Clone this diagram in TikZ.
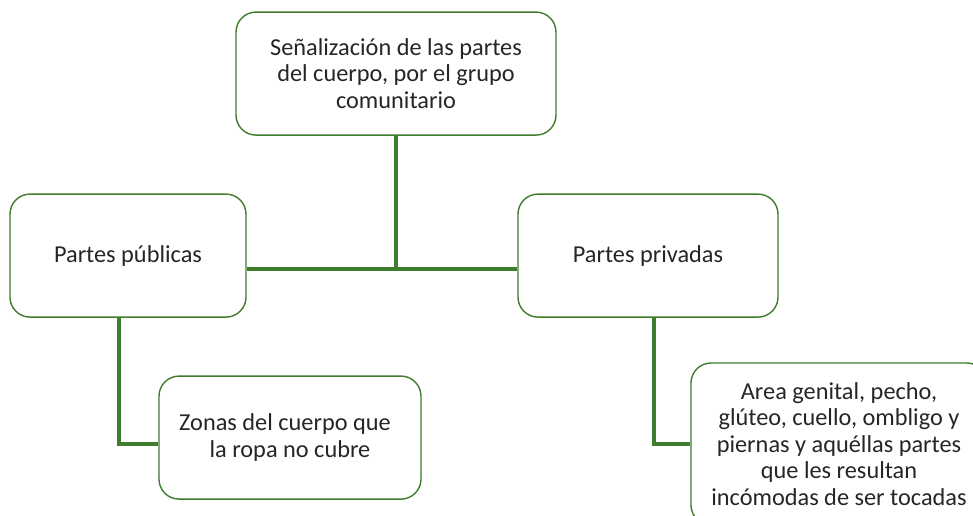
\documentclass[tikz,border=0pt]{standalone}
\usepackage{fontspec}
\setmainfont{Carlito}
\usepackage{tikz}
\usetikzlibrary{arrows,positioning}
\usetikzlibrary{calc}
\definecolor{hojaverde}{RGB}{62,124,46}
\definecolor{textogris}{RGB}{38,38,38}

\begin{document}
\begin{tikzpicture}[
  caja/.style={draw=hojaverde, line width=1pt, rounded corners=0.5cm, fill=white,
    align=center, text=textogris, inner sep=0pt,
    font=\fontsize{17.3}{18.9}\selectfont},
  rama/.style={draw=hojaverde, line width=2.8pt}]
\useasboundingbox (0,0) rectangle (24.325,-12.9);
\clip (0,0) rectangle (24.325,-12.9);
\node[caja, minimum width=8cm, minimum height=3.075cm] (raiz) at (9.9,-1.84)
  {Señalización de las partes\\ del cuerpo, por el grupo\\ comunitario};
\node[caja, minimum width=5.9cm, minimum height=3.075cm] (publicas) at (3.2,-6.39)
  {Partes públicas};
\node[caja, minimum width=6.5cm, minimum height=3.075cm] (privadas) at (16.2,-6.39)
  {Partes privadas};
\node[caja, minimum width=6.55cm, minimum height=3.075cm] (zonas) at (7.25,-10.94)
  {\hspace*{-0.25cm}Zonas del cuerpo que\\ la ropa no cubre};
\node[caja, minimum width=7.4cm, minimum height=4.05cm] (areas) at (20.975,-11.1)
  {Area genital, pecho,\\ glúteo, cuello, ombligo y\\ piernas y aquéllas partes\\
   que les resultan\\ incómodas de ser tocadas};
\coordinate (cruce) at (9.95,-6.725);
% ramas
\draw[rama] (raiz.south) -- (raiz.south |- cruce);
\draw[rama] (publicas.east |- cruce) -- (privadas.west |- cruce);
\draw[rama] ([xshift=-0.225cm]publicas.south) |- ([yshift=-0.16cm]zonas.west);
\draw[rama] ([xshift=0.15cm]privadas.south) |- (areas.west);
\end{tikzpicture}
\end{document}
